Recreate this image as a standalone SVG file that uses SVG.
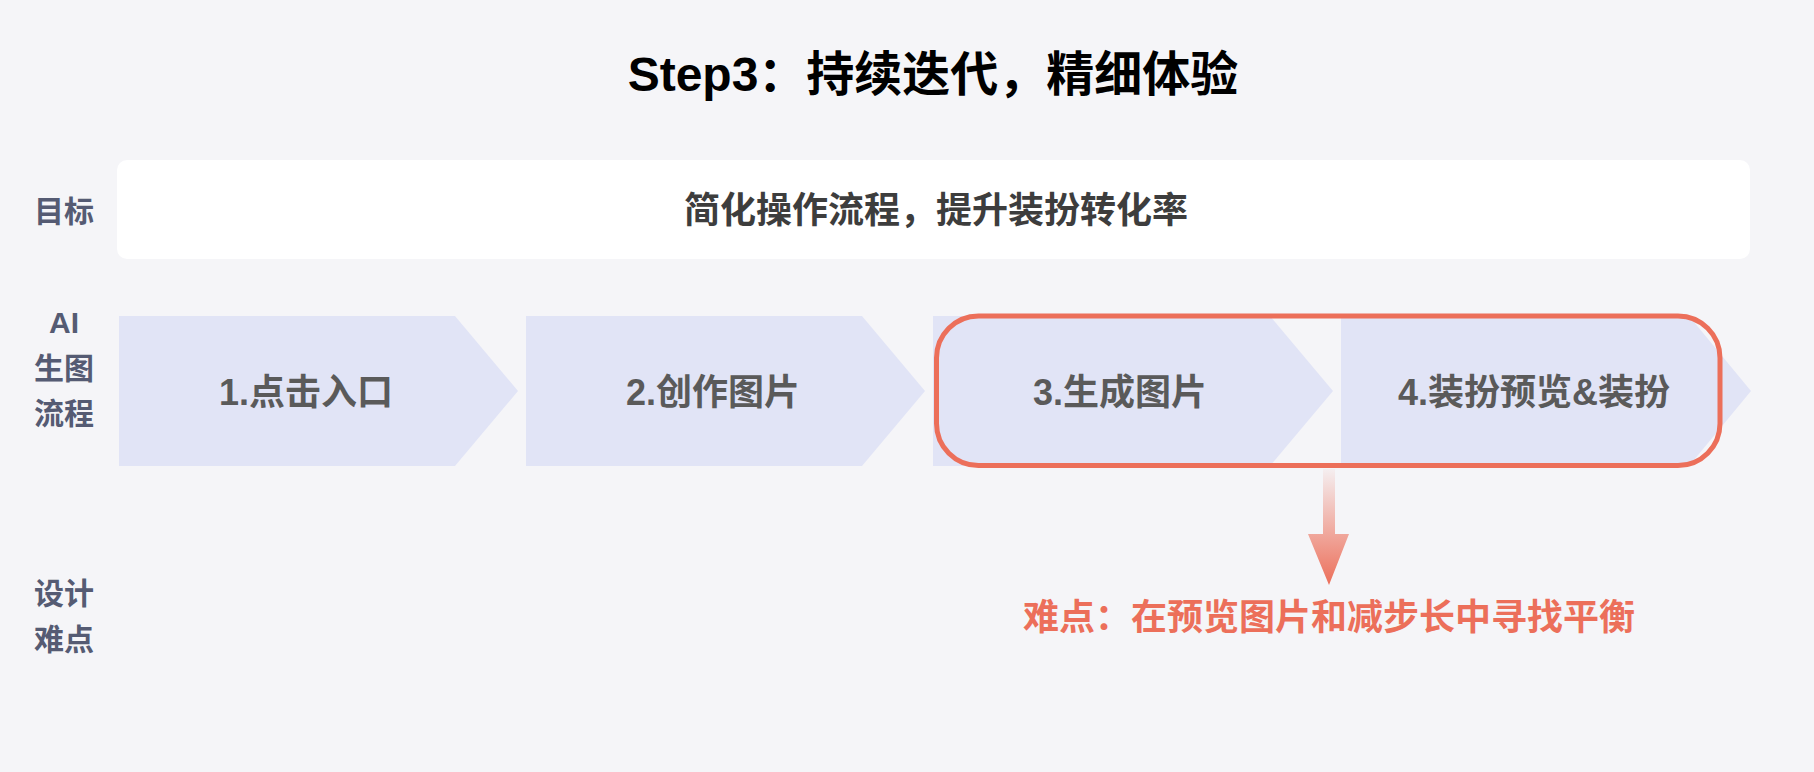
<svg xmlns="http://www.w3.org/2000/svg" width="1814" height="772" viewBox="0 0 1814 772">
  <style>
    text { font-family: "Liberation Sans", "Noto Sans CJK SC", sans-serif; font-weight: bold; }
    .title { font-size: 48px; fill: #000000; text-anchor: middle; }
    .goal { font-size: 36px; fill: #3d3d3d; text-anchor: middle; }
    .row { font-size: 30px; fill: #555b73; text-anchor: middle; }
    .step { fill: #e1e4f6; }
    .steptxt { font-size: 36px; fill: #5a5a5a; text-anchor: middle; }
    .hard { font-size: 36px; fill: #ec6f5a; text-anchor: middle; }
  </style>
  <defs>
    <linearGradient id="arrowGrad" gradientUnits="userSpaceOnUse" x1="0" y1="469" x2="0" y2="585">
      <stop offset="0" stop-color="#ec6f5a" stop-opacity="0.05"/>
      <stop offset="1" stop-color="#ec6f5a" stop-opacity="1"/>
    </linearGradient>
  </defs>
  <rect width="1814" height="772" fill="#f5f5f8"/>

  <g id="title">
    <text class="title" x="933" y="91">Step3：持续迭代，精细体验</text>
  </g>

  <g id="row-labels">
    <text class="row" x="64" y="222">目标</text>
    <text class="row" x="64" y="333">AI</text>
    <text class="row" x="64" y="379">生图</text>
    <text class="row" x="64" y="424">流程</text>
    <text class="row" x="64" y="604">设计</text>
    <text class="row" x="64" y="650">难点</text>
  </g>

  <g id="goal">
    <rect x="117" y="160" width="1633" height="99" rx="10" fill="#ffffff"/>
    <text class="goal" x="936" y="223">简化操作流程，提升装扮转化率</text>
  </g>

  <g id="step1">
    <path class="step" d="M119 316 H455 L518 391 L455 466 H119 Z"/>
    <text class="steptxt" x="306" y="405">1.点击入口</text>
  </g>
  <g id="step2">
    <path class="step" d="M526 316 H862 L925 391 L862 466 H526 Z"/>
    <text class="steptxt" x="713" y="405">2.创作图片</text>
  </g>
  <g id="step3">
    <path class="step" d="M933 316 H1270 L1333 391 L1270 466 H933 Z"/>
    <text class="steptxt" x="1120" y="405">3.生成图片</text>
  </g>
  <g id="step4">
    <path class="step" d="M1341 316 H1689 L1751 391 L1689 466 H1341 Z"/>
    <text class="steptxt" x="1534" y="405">4.装扮预览&amp;装扮</text>
  </g>

  <g id="highlight">
    <rect x="936.5" y="316" width="783.5" height="149.5" rx="42" fill="none" stroke="#ec6f5a" stroke-width="5"/>
  </g>

  <g id="connectors">
    <path d="M1323 469 H1335 V534 H1349 L1329 585 L1308 534 H1323 Z" fill="url(#arrowGrad)"/>
  </g>

  <g id="difficulty">
    <text class="hard" x="1329" y="630">难点：在预览图片和减步长中寻找平衡</text>
  </g>
</svg>
